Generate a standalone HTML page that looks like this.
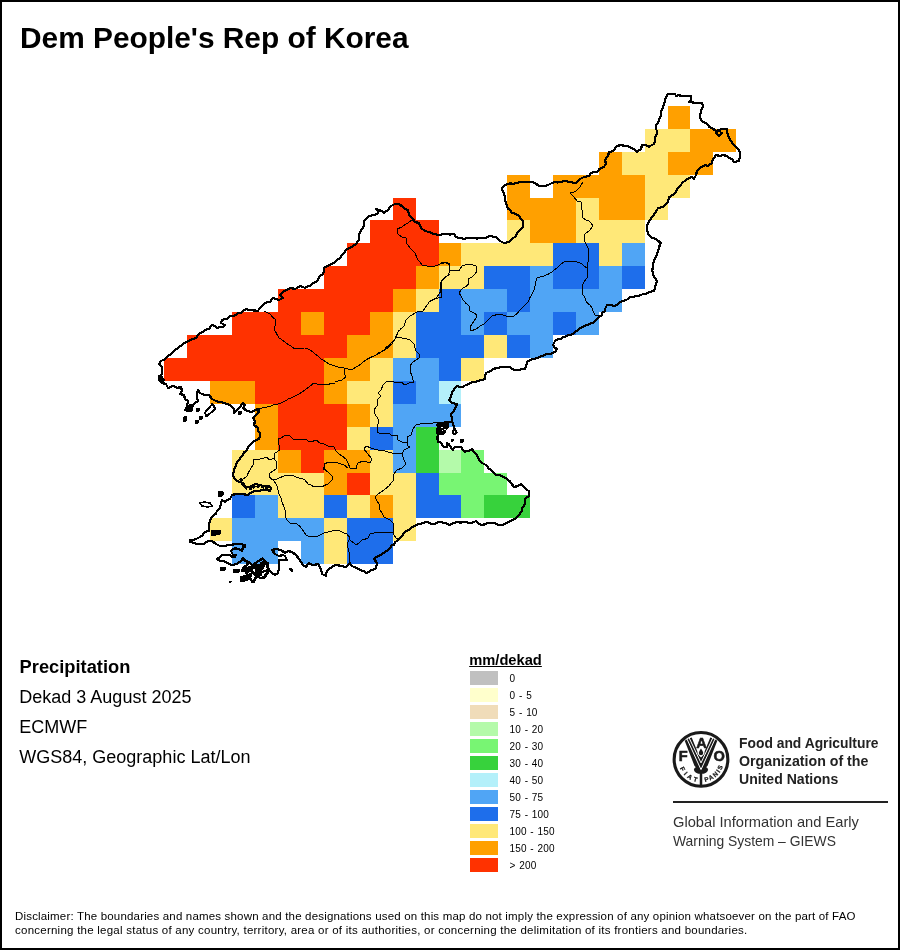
<!DOCTYPE html>
<html><head><meta charset="utf-8"><title>Dem People's Rep of Korea - Precipitation</title>
<style>
html,body{margin:0;padding:0;background:#fff;}
body{width:900px;height:950px;position:relative;overflow:hidden;will-change:transform;font-family:"Liberation Sans",sans-serif;color:#000;}
#frame{position:absolute;left:0;top:0;width:896px;height:946px;border:2px solid #000;}
.abs{position:absolute;white-space:nowrap;}
#title{left:20px;top:20.6px;font-size:29.85px;font-weight:bold;line-height:34px;}
.info{left:19.3px;font-size:18px;line-height:22px;}
#lt{left:469.2px;top:651.6px;font-size:14.7px;font-weight:bold;line-height:16px;text-decoration:underline;}
.sw{position:absolute;left:470px;width:28px;height:14px;}
.lb{position:absolute;left:509.5px;font-size:10px;line-height:14px;letter-spacing:0.15px;word-spacing:0.8px;margin-top:0.5px;white-space:nowrap;}
.fao{left:738.8px;font-size:14.8px;font-weight:bold;color:#222;line-height:18px;transform-origin:0 0;transform:scaleX(0.94);}
.giews{left:672.8px;font-size:14.2px;color:#333;line-height:18px;transform-origin:0 0;transform:scaleX(0.94);}
#rule{position:absolute;left:673px;top:801px;width:215px;height:2px;background:#222;}
.disc{left:15px;font-size:11.5px;line-height:14px;color:#000;}
svg{position:absolute;left:0;top:0;}
</style></head><body>
<svg width="900" height="950" viewBox="0 0 900 950" shape-rendering="crispEdges">
<rect x="668" y="106" width="22" height="23" fill="#FFA000"/>
<rect x="645" y="129" width="45" height="23" fill="#FFE878"/>
<rect x="690" y="129" width="46" height="23" fill="#FFA000"/>
<rect x="599" y="152" width="23" height="23" fill="#FFA000"/>
<rect x="622" y="152" width="46" height="23" fill="#FFE878"/>
<rect x="668" y="152" width="45" height="23" fill="#FFA000"/>
<rect x="507" y="175" width="23" height="23" fill="#FFA000"/>
<rect x="553" y="175" width="92" height="23" fill="#FFA000"/>
<rect x="645" y="175" width="45" height="23" fill="#FFE878"/>
<rect x="393" y="198" width="23" height="22" fill="#FF3200"/>
<rect x="507" y="198" width="69" height="22" fill="#FFA000"/>
<rect x="576" y="198" width="23" height="22" fill="#FFE878"/>
<rect x="599" y="198" width="46" height="22" fill="#FFA000"/>
<rect x="645" y="198" width="23" height="22" fill="#FFE878"/>
<rect x="370" y="220" width="69" height="23" fill="#FF3200"/>
<rect x="507" y="220" width="23" height="23" fill="#FFE878"/>
<rect x="530" y="220" width="46" height="23" fill="#FFA000"/>
<rect x="576" y="220" width="69" height="23" fill="#FFE878"/>
<rect x="347" y="243" width="92" height="23" fill="#FF3200"/>
<rect x="439" y="243" width="22" height="23" fill="#FFA000"/>
<rect x="461" y="243" width="92" height="23" fill="#FFE878"/>
<rect x="553" y="243" width="46" height="23" fill="#1E6EEB"/>
<rect x="599" y="243" width="23" height="23" fill="#FFE878"/>
<rect x="622" y="243" width="23" height="23" fill="#50A5F5"/>
<rect x="324" y="266" width="92" height="23" fill="#FF3200"/>
<rect x="416" y="266" width="23" height="23" fill="#FFA000"/>
<rect x="439" y="266" width="45" height="23" fill="#FFE878"/>
<rect x="484" y="266" width="46" height="23" fill="#1E6EEB"/>
<rect x="530" y="266" width="23" height="23" fill="#50A5F5"/>
<rect x="553" y="266" width="46" height="23" fill="#1E6EEB"/>
<rect x="599" y="266" width="23" height="23" fill="#50A5F5"/>
<rect x="622" y="266" width="23" height="23" fill="#1E6EEB"/>
<rect x="278" y="289" width="115" height="23" fill="#FF3200"/>
<rect x="393" y="289" width="23" height="23" fill="#FFA000"/>
<rect x="416" y="289" width="23" height="23" fill="#FFE878"/>
<rect x="439" y="289" width="22" height="23" fill="#1E6EEB"/>
<rect x="461" y="289" width="46" height="23" fill="#50A5F5"/>
<rect x="507" y="289" width="23" height="23" fill="#1E6EEB"/>
<rect x="530" y="289" width="92" height="23" fill="#50A5F5"/>
<rect x="232" y="312" width="69" height="23" fill="#FF3200"/>
<rect x="301" y="312" width="23" height="23" fill="#FFA000"/>
<rect x="324" y="312" width="46" height="23" fill="#FF3200"/>
<rect x="370" y="312" width="23" height="23" fill="#FFA000"/>
<rect x="393" y="312" width="23" height="23" fill="#FFE878"/>
<rect x="416" y="312" width="45" height="23" fill="#1E6EEB"/>
<rect x="461" y="312" width="23" height="23" fill="#50A5F5"/>
<rect x="484" y="312" width="23" height="23" fill="#1E6EEB"/>
<rect x="507" y="312" width="46" height="23" fill="#50A5F5"/>
<rect x="553" y="312" width="23" height="23" fill="#1E6EEB"/>
<rect x="576" y="312" width="23" height="23" fill="#50A5F5"/>
<rect x="187" y="335" width="160" height="23" fill="#FF3200"/>
<rect x="347" y="335" width="46" height="23" fill="#FFA000"/>
<rect x="393" y="335" width="23" height="23" fill="#FFE878"/>
<rect x="416" y="335" width="68" height="23" fill="#1E6EEB"/>
<rect x="484" y="335" width="23" height="23" fill="#FFE878"/>
<rect x="507" y="335" width="23" height="23" fill="#1E6EEB"/>
<rect x="530" y="335" width="23" height="23" fill="#50A5F5"/>
<rect x="164" y="358" width="160" height="23" fill="#FF3200"/>
<rect x="324" y="358" width="46" height="23" fill="#FFA000"/>
<rect x="370" y="358" width="23" height="23" fill="#FFE878"/>
<rect x="393" y="358" width="46" height="23" fill="#50A5F5"/>
<rect x="439" y="358" width="22" height="23" fill="#1E6EEB"/>
<rect x="461" y="358" width="23" height="23" fill="#FFE878"/>
<rect x="210" y="381" width="45" height="23" fill="#FFA000"/>
<rect x="255" y="381" width="69" height="23" fill="#FF3200"/>
<rect x="324" y="381" width="23" height="23" fill="#FFA000"/>
<rect x="347" y="381" width="46" height="23" fill="#FFE878"/>
<rect x="393" y="381" width="23" height="23" fill="#1E6EEB"/>
<rect x="416" y="381" width="23" height="23" fill="#50A5F5"/>
<rect x="439" y="381" width="22" height="23" fill="#B4F0FA"/>
<rect x="255" y="404" width="23" height="23" fill="#FFA000"/>
<rect x="278" y="404" width="69" height="23" fill="#FF3200"/>
<rect x="347" y="404" width="23" height="23" fill="#FFA000"/>
<rect x="370" y="404" width="23" height="23" fill="#FFE878"/>
<rect x="393" y="404" width="68" height="23" fill="#50A5F5"/>
<rect x="255" y="427" width="23" height="23" fill="#FFA000"/>
<rect x="278" y="427" width="69" height="23" fill="#FF3200"/>
<rect x="347" y="427" width="23" height="23" fill="#FFE878"/>
<rect x="370" y="427" width="23" height="23" fill="#1E6EEB"/>
<rect x="393" y="427" width="23" height="23" fill="#50A5F5"/>
<rect x="416" y="427" width="23" height="23" fill="#37D23C"/>
<rect x="232" y="450" width="46" height="23" fill="#FFE878"/>
<rect x="278" y="450" width="23" height="23" fill="#FFA000"/>
<rect x="301" y="450" width="23" height="23" fill="#FF3200"/>
<rect x="324" y="450" width="46" height="23" fill="#FFA000"/>
<rect x="370" y="450" width="23" height="23" fill="#FFE878"/>
<rect x="393" y="450" width="23" height="23" fill="#50A5F5"/>
<rect x="416" y="450" width="23" height="23" fill="#37D23C"/>
<rect x="439" y="450" width="22" height="23" fill="#B4FAAA"/>
<rect x="461" y="450" width="23" height="23" fill="#78F573"/>
<rect x="232" y="473" width="92" height="22" fill="#FFE878"/>
<rect x="324" y="473" width="23" height="22" fill="#FFA000"/>
<rect x="347" y="473" width="23" height="22" fill="#FF3200"/>
<rect x="370" y="473" width="46" height="22" fill="#FFE878"/>
<rect x="416" y="473" width="23" height="22" fill="#1E6EEB"/>
<rect x="439" y="473" width="68" height="22" fill="#78F573"/>
<rect x="232" y="495" width="23" height="23" fill="#1E6EEB"/>
<rect x="255" y="495" width="23" height="23" fill="#50A5F5"/>
<rect x="278" y="495" width="46" height="23" fill="#FFE878"/>
<rect x="324" y="495" width="23" height="23" fill="#1E6EEB"/>
<rect x="347" y="495" width="23" height="23" fill="#FFE878"/>
<rect x="370" y="495" width="23" height="23" fill="#FFA000"/>
<rect x="393" y="495" width="23" height="23" fill="#FFE878"/>
<rect x="416" y="495" width="45" height="23" fill="#1E6EEB"/>
<rect x="461" y="495" width="23" height="23" fill="#78F573"/>
<rect x="484" y="495" width="46" height="23" fill="#37D23C"/>
<rect x="210" y="518" width="22" height="23" fill="#FFE878"/>
<rect x="232" y="518" width="92" height="23" fill="#50A5F5"/>
<rect x="324" y="518" width="23" height="23" fill="#FFE878"/>
<rect x="347" y="518" width="46" height="23" fill="#1E6EEB"/>
<rect x="393" y="518" width="23" height="23" fill="#FFE878"/>
<rect x="232" y="541" width="46" height="23" fill="#50A5F5"/>
<rect x="301" y="541" width="23" height="23" fill="#50A5F5"/>
<rect x="324" y="541" width="23" height="23" fill="#FFE878"/>
<rect x="347" y="541" width="46" height="23" fill="#1E6EEB"/>
</svg>
<svg width="900" height="950" viewBox="0 0 900 950" fill="none" stroke="#000" stroke-linejoin="round" stroke-linecap="round">
<path d="M270,302 266.7,302.5 264,304 261.7,305.9 259,309 258,311 255.1,310.5 251.3,310.3 249,310 246,309 242.8,310.9 241,313 237.4,313.4 234.9,315.5 232,316 228.9,316.6 227.2,318.7 224.6,318.8 222,320 221,323 225,325 223,327 220.7,326.8 217,328 215,326.2 212,325 209,329 205.5,329.8 202.7,332.1 200,333 197.5,335.6 196,338 193.2,339.1 190.1,340 187,342 183.7,343.2 181.9,345.2 179,347 176.7,348.8 174.9,350 173,352 171.4,354 168.6,355.4 167,357 164,359.6 161,361 159,364 162,367 162.3,370.2 162,374 159,377 159,380 162,383 166,384 168,388 171.7,386.4 174,386 177,388 181,387 182,391 180,394 184,395 185,399 188,401 187,406 185,410 187.9,410.9 191,411 192,407 195,403 198,401 197,397.5 197,394 198,390 200,393 202,394 204.8,394.8 209,395 212,399 216,401 219.1,401.8 221.9,402.1 224,403 227.3,404.1 230,405 232.1,406.9 234,409 234,413 237,410 240,407 243,403 245,405 243,408 247,411 252,412 255,410 259,409 258.5,412.2 257,414 255,416.2 253,418 255,421 254,425 258,428 258.3,430.8 260,433 259.7,436.7 259,439 257,439.7 254,441 251.8,443.3 250,445 247.8,447.4 247,450 244.5,451.9 243,455 240.3,457.9 239,460 236.9,462.1 236,465 234.8,468.1 234,470 233,475 233.9,477.4 236,480 238.6,481.6 241,482 244,486 247.5,487 250,487 252.2,485.4 255,484 260,485 262.8,486.1 266,486 269.2,486.5 271,488 270,491 266.5,490.1 264,490 260.6,490.5 258,491 255.1,491.1 252,492 248,495 244.3,494.4 242,494 238.8,494.1 236,494 232,495 230,499 227,500 225,502 222,500 221,503 220,508 217,511 215.7,513.8 213,516 210,520 209,525 209,528.2 209,531 206.8,531.3 204,533 202.6,535.4 200,537 196,539 193.6,539.9 190,540 190,542 193.3,542.8 197,544 199.9,544.2 204,544 205.8,541.9 209,541 212,541 216,544 220,546 225,546 227.6,545 231,545 235,544 240,544 245,545 245,547 243,547 242,551 239,549 235.8,548.3 233,549 231,551 233,555 236,555 235,557 232,557 230,555 225,555 221.8,555.5 220,557 217,559 220,561 224,561 227,563 228.9,563.8 232,565 237,564 241,561 243,558 245,561 249,562 252,565 253.3,567.6 256,569 259.2,570 262,572 265.1,570.8 269,570 272,573 275,575 278,573 279,568 279,564 279,560 283,560 287,560 285,556 283,555 279,556 275,554 272,550 276,549 281,550 285,553 288,551 292,552 296,555 299,559 300.8,561.4 303,565 306,567 309,563 312,564.7 314,565 318,564 319.4,566.5 321,569 322,574 326,576 326.4,572.4 328,570 332,567 334.3,565.6 337,565 341,566 346,567 348.5,564.5 350,563 351.3,565.7 354,567 357,568 360,570 363.1,570.8 366,573 368.5,572.2 371,570 374,569.3 376,568 377,563 374,559 376.1,557.3 379,556 381.5,554.4 385,552 387.5,550.4 390,548 391.4,545.6 393.8,544.7 395,542 398,540.5 400,538 402.5,535.9 404,533 406.6,531 410,529 412.3,526.8 415,526 416.8,524.7 420,524 422.6,523.3 426,522 429.7,522.9 432,524 435.7,523.7 438,522 441.7,522.3 444,523 446.6,523.6 450,525 453,523.1 457,522 460.7,522.6 464,522 467.5,522.5 470,523 473.2,522.4 476,521 477.9,523.2 481,525 484.6,524.4 487,523 490.9,523 494,523 497,524.4 501,525 503.2,524.5 506,523 510.2,521.3 513,520 515.4,518.7 518,516 520.3,513 522,511 522.4,508 524,506 525.1,503 525,499 529,496 529,491 526,489.5 524,487 521,484 518,486 514,487 511,483 509.7,481.2 507,479 504.3,477.6 502,476 498.4,474.8 496,475 494.2,472.7 491,470 488.5,468.2 486,465 482,463 479.9,461.1 478,458 477,455.1 475,453 472.2,449.4 468.3,451 465,451.7 462.8,449.4 460.6,446.7 458.3,447.2 454.4,447.2 452.8,450 451.7,448.3 449.9,445.8 448.9,443.9 446.7,443.3 446.7,447.2 444.4,447.2 442.4,445.1 441.1,442.8 437.8,441.7 437.4,437.9 437.8,434.4 437.2,432.4 437.4,429.1 437.7,427.2 437.5,424 440.6,423.9 444,422.5 449,422.2 452.2,422.2 453.9,426.1 455,430 452.6,431 454,434.5 456.6,432.5 455,430 453.9,426.1 452.2,422.2 452.2,417.2 450.6,415 452.5,412.5 454.4,410 456,407 457,404 452,403 449,400 450,399 451,396.4 452,392.9 453,391 454.9,388 457,386 459.3,386.9 463,387 464.8,385.6 468,384.4 470,383 472.4,382.4 475.4,382.1 478,381 480.9,380.1 485,379 485.1,375.7 486,373 488.7,371.7 490.8,370.7 493,369 496.3,368.2 498.5,367.7 501,367 504,367.3 506.9,367 510,367 512.5,369.2 515,370 518.6,370.2 522.3,369 525,369 526.1,366.2 527,362 530.5,360 533,359 538,358 540.9,356.4 545,355 547,353.9 549.7,353.9 553,353 555.4,351.6 557,349 554.5,347.3 553,345 555,341 557.9,339.1 560.9,339 563,337 565.3,336.7 568.3,335 572,334.5 574,333 575.7,331.4 578.5,329.8 580.3,328.2 583,327 585.8,325.3 588.1,324.9 589.8,323.7 593,323 595.2,321 596.3,319.7 599,317 601.4,315.7 602.4,312.6 605,311 605.3,308.4 607,305 610.2,304.9 614,306 616.6,305 619.8,302.3 622,301 624.2,300.6 627.6,299.3 629.6,297.3 633,297 635.8,296.1 637.4,296.2 640.7,295.2 643,294 645.1,293.8 647.8,293 651.2,291.5 654,291 655.1,288.6 655.7,284.4 657,282 655.7,278.9 653.7,276.2 653,274 652.3,270.6 652.7,267.7 653,265 654,260 655.9,256.7 657,254 658,250.5 659,248 659.8,244.8 661,243 657,240 654.1,238.3 652,238 650.3,236.1 648,234 647,229 647,226 648,223 650.2,219.9 651,218 653.5,215.4 655,213 656.5,211 658,208 663,207 664.8,205 667,203 668.3,200.7 669,197 671.3,196 674,194 675.8,191.7 677,189 678.9,186.8 681,185 682.3,182.4 685,181 689,178 692,177 694,179 696,175 697,171 700,168 701.9,166.9 705,165 708,166 712,163 712.6,160 714,158 716,155 720,156 723,155 727,156 728.9,158 732,159 734,162 739,161 740,156 740.1,153.3 739,150 736.7,147.6 735,146 732.7,143.4 731,141 729,137.9 728,135 727.1,132.7 727,129 722,129 719.7,130.1 716,131 712,128 709.1,126.7 707,124 704.2,122.3 702,121 700.3,118.3 700,116 701,111 702,108.5 703,106 702,103 698.1,103 695,103 691.3,102.1 689,102 691,100 691,96 686,96 682.1,95.8 678.6,95.3 676,96 675,94 671.2,93.6 668,94 666.6,96.5 665,99 664.7,101.9 664,104.9 663,107 661.8,109.7 661,113 660.7,116 659,120 657.8,122.7 656,125 655.8,128.5 657,131 656.6,134.7 655,138 654.9,141.5 654,144 651,145.5 649,147 646,145 642,145 641,149 637,152 634,149 631,148 628,146 625,146 621,145 617,146 614,150 611.6,151.6 609,152 608,156 605,160 606,164 604.3,166.3 602,168 599.1,169.3 597,172 593.4,172.3 591,173 589,176 584,177 580,179 577.4,181.5 576,183 573.1,182.7 570,182 565,181 560,182 557.5,182.6 554.7,181.9 552,183 548,185 545.4,185.7 542,185.7 539,186 535,183 532.2,182.1 529.4,182.2 526,182.4 522.4,182.1 520.3,182.2 517,182.7 514.1,183.8 510.5,183.4 507.3,184 503,186.5 502,188.5 503,191.5 504,194 504.9,197.2 505,200 506.2,202.9 507,207 508.1,208.6 510.7,210.7 512,213 515.6,213.8 519,216 520.3,218.2 523,221 523.3,224.3 523,227 520.8,229.2 518,232 516.5,234.4 515,237 512.9,238.1 511.6,239.9 509,242 504,243 500,241 498.7,239.7 496,237 491.8,236.4 489,236 486.5,237.7 483,238 480.2,237.7 477.1,238.7 474.3,238.1 472,238 468.8,238.4 467.3,238.1 464,239 461.8,238.3 459.2,238 456,237 454,234 450.1,234.6 447,234 443.5,233.8 440,235 436.3,234.5 434,234 430.9,232.7 428,232 424.5,230.3 422,229 420.2,226.5 419,223 415,222 412,218 409,215 408,210 404.8,208.9 403,207 399,204 395,204 391,206 388,210 384,213 382,210.9 379,210 376,209 379,211 377.6,213.3 375,215 372.6,215.2 369,216 366.3,218.3 364,221 364.2,224.6 363,228 360.8,230.9 359,234 358.7,236.3 359,240 356,244 353.1,245.8 351,247.3 349,248 346.6,249.6 345,251.5 343,254 340.8,256.7 339.6,258.5 337,260 334.9,262.3 333,263.4 330,265 327.3,265.8 324,268 323.8,270.9 323,274 319,277 317.9,279.7 316,282 312.7,283.3 310,286 308.1,286.4 305,288 302.5,286.8 300,286 297.2,287.9 295,289 291,288 288.2,289.1 284,291 282.2,292.7 280,295 283,298 279,300 276.1,298.8 273,298Z" stroke-width="2.2" shape-rendering="crispEdges"/>
<path d="M264,311 266.7,312.2 270,314 272.7,317.4 276,320 275.3,322.7 275,326.4 274,329 275.6,331.7 277.1,334.6 279,338 281.5,339.5 284.1,341.4 287.1,343.8 289.9,345.3 292.3,347.2 295,349 298.2,348.5 301.3,348.1 305,348 309.4,349.7 313,352 315.7,354.4 318.7,356.4 321,359 323.5,360.4 326.2,362.3 329,364 332.4,365.3 335,366 M259,409 262.3,407.8 264.6,407.7 268.4,406.7 271,406 274.1,404.6 276.9,404.4 280.3,403.3 283,402 286.4,400.3 288.6,398.7 292,397.7 295,396 298.7,394.2 301.8,392.2 305,390 308,387.7 310.6,385.6 314,383 316.8,384 320.1,384.2 323,385 325.7,384.3 329.1,384.2 331.7,383.1 335,383 M323,470 324,467.1 325,464 327.9,462.8 331,462 335,462 M412,220 408,223 405.1,224.6 402,227 397,229 397,233 399.3,235 402,237 406,238 406,243 408.4,245.6 410,248 412.8,250.5 415,253 416.3,256.3 418,260 420.4,262.7 422,265 425.8,265.6 430,267 434,266.2 438,265 440.9,263.3 444,262 447.2,263.4 450,264 M450,274 446.8,276.1 444,279 441.9,281.4 440,284 440.7,287.2 441,291 438.8,294.7 436,298 432.5,299.7 429,302 427.4,304.8 425,308 423,311 420.3,311.3 417,312 413.2,314.2 410,316 406,320 404.8,323.4 404,326 401,328.7 398,332 396.3,335.4 395,339 392.6,341.9 390,344 386.7,346.9 384,350 381.1,352.1 378.3,352.9 376,355 371.6,356.9 368,359 M583,182 580,187 576,191 573.4,192.3 570,193 574,197 577,201 581,202 581.7,206.4 582,210 582.9,213.8 583,218 585.7,219.9 589,221 591.2,223.1 593,226 591.1,228.4 589,231 585,234 584.9,237.8 585,242 586.7,245.6 589,250 588.3,253.9 588,258 588.1,261 587.8,264.4 587,268 587.4,272.3 588,276 586.6,278.6 584.3,281.3 583,284 582.4,288.4 582,292 583.1,294.9 585,297.6 586,301 587.9,303.6 590.2,305.3 592,308 593.1,311.1 595,315 598.4,315.3 601,316 M587,268 584.7,266.4 582,264 577.9,262.3 574,261 571.1,261.4 567.1,261.9 564,262 560.8,264.3 558,267 554.6,269.7 552,272 548.4,274.1 544,276 540.9,276.6 537,278 535.8,282 535,286 533.9,290.4 532,294 529.9,297.8 528,302 525.3,304.7 523.1,307 520,310 517.3,313.2 514,316 511.3,316.7 508,317 504.1,315.3 500,314 495.8,314.9 492,316 489.6,318.3 486.4,321.6 484,324 481.1,325.3 478.2,327.4 476,329 471,331 470,327 471.8,324.4 474,321 475.8,318.4 477,315 473.3,312.6 470,311 469,306 465.6,303 463,300 461.2,296.5 459,293 460.8,290.4 463,288 466.1,286.2 469,284 468,279 472,277 474.7,274.3 477,271 476,266 472.1,264.7 468,264 465.3,264.8 462,266 459,271 456.1,270.9 453.2,270.7 450,271 449.8,267.8 450,265 446,262 442.7,263.3 440,264 M450,271 448,275 445.1,277.3 442,280 441.6,283.8 441.3,286.4 441,290 441.8,293.6 442,297 438.9,297.6 435,299 430,301 M335,366 338,367 341.3,367.7 344,368 347.6,368.8 352,370 354.7,367.7 358,366 360.9,364.1 363,362 366.4,359.9 369,358 372.3,356.6 374.8,355.6 378,354 381.9,351.6 385,350 387.4,348.1 389.4,345.9 392,344 393.7,340.7 396,338 397.3,334.1 399,330 M344,368 344,373 346,377 342,380 338.6,380.7 335,382 M396,338 398.6,337.8 402,338 406.2,338.7 410,340 414,344 414.8,347.2 416,351 420,355 419,358 416.3,360 413,362 410,366 410,371 412,376 412.6,378.6 414,382 409,383 405,385 401,382 397.4,382 394,382 390.1,381.6 386,382 383,385 381,390 378,393 381,396 378,399 377.7,402.2 378,405 375.9,407.3 374,410 375,414 378,419 378,424 377,428 377,432 381,434 384.3,433.9 388,433 393,436 397,435 398,440 402,442 407,442 408,446 410,447 406.8,448.6 404,450 402,454 402.9,456.9 404,460 406,464 402,468 397,470 394,474 393.8,477.9 393,481 390.9,483.2 389,486 386.7,487.7 384,490 380.6,492.4 378,494 375,497 376.9,500.8 379,504 379.4,507.3 380,510 382,513.2 384,517 386.6,518.5 390,520 394,524 393.6,528.4 393,532 394.1,535.1 396,538 400,538 M407,442 407,437 411,435 411.9,432 413,429 414.7,426.3 417,424 420.4,424 423.3,423.3 427,423 430.9,423.4 434.1,422.7 438,423 M278,439 281.4,437.9 284,436 287,435.6 290,436 294,440 297.4,439.9 300,440 305,439 310,442 313.4,441.1 316,440 320,443 324.3,444.2 328,446 331.3,446.2 334,447 336,451 338.9,453.8 342,456 346,459 348,463 350,468 353.3,468.2 356,469 356.7,465.9 358,463 363,461 366.5,461.9 370,463 372,459 369.7,456.3 368,454 366.2,451.9 364,449 366,446 371,448 374.1,449.1 378,450 381.6,450.3 385,451 388,452 392.1,453 396,454 399.1,453.8 402,454 M278,439 278.4,442.1 279,445 280,450 275,453 274,458 277,463 276.4,466.1 276,469 273,470.9 270,473 269,477 273,480 277,479 280.1,477.6 284,476 288,475.3 292,475 295.7,476.8 299,478 302,478.7 305,480 308,484 311,485.1 314,487 317.7,486.9 322,487 324.6,485.4 328,484 332,480 332,476 328,472 324,469 324,464 327,462.6 330,462 334.1,462.1 338,463 341.2,464.2 344,465 348,468 M273,480 275,482.6 277,486 278,489.9 279,494 280.9,497.7 282,502 283.8,506.4 285,510 285.7,514.3 286,518 287.7,520.9 290,523 293.5,523.9 297,524 299.9,526.2 302,529 304.3,532.4 306,535 310,537 313.6,536.4 318,536 321.2,534.2 324,533 328.4,531.8 332,531 336.3,530.7 340,531 343.5,532.9 347,534 350,538 348,542 347.7,544.8 348,548 349,551.8 350,556 349.6,558.7 350,562 M274,458 270,460 266,457 262.7,458.4 260,459 257.2,459.4 254,459 253.2,462.3 253,465 250,470 248.2,473 247,476 244.6,477.9 242,480 240,482 M350,540 353.3,542.5 356,545 359.1,542.8 362,540 364.6,539.4 368,538 370,534 374.1,532.9 378,532 382.3,532.3 386,533 389.9,532.6 393,532" stroke-width="1" shape-rendering="crispEdges"/>
<path d="M185,408 191,404 193,410 187,412Z M183,418 186,416 187,420 184,422Z M195,421 198,420 198,423 195,424Z M199,417 202,416 202,419 199,420Z M196,409 199,408 199,411 196,412Z M238,412 241,411 241,414 238,415Z M451,439 453,439 453,441 451,441Z M460,439 463,439 463,442 460,442Z M437.3,422.4 449,422.2 448.4,427 446,430 444.5,434 441,434.4 438,434.4Z M218,492 222,491 224,494 221,497 218,496Z M211,531 220,530 220,534 212,536Z M220,568 225,567 225,570 221,571Z M233,570 239,569 239,572 234,573Z M229,581 231,581 231,582 229,582Z M289,568 291,568 293,571 291,571Z M158.5,375.5 161,374.5 164.5,380 162.5,382.5 159.5,381Z M243,569 250,566 252,570 246,574Z M254,567 258,564 261,567 257,571Z M260,563 265,561 267,564 262,567Z M240,578 248,575 250,579 243,582Z M253,573 259,571 262,575 256,578Z" stroke-width="1" fill="#000" shape-rendering="crispEdges"/>
<path d="M200,503 204,502 210,503 212,506 208,507 202,506 200,503 M716,133 719,131 722,133 719,136 716,133" stroke-width="1.5" shape-rendering="crispEdges"/>
<path d="M242.7,558 245.3,560.7 248.7,562 246.7,565.3 243.3,568 242,570.7 246.7,571.3 250.7,568.7 252.7,565.3 256,562.7 260,560 262.7,558.7 264.7,561.3 268,563.3 267.3,566.7 269.3,569.3 268,572.7 265.3,574.7 265.3,577.3 260,578 257.3,576 254.7,578.7 254,582 252,582 250.7,578.7 246.7,579.3 242.7,581.3 240.7,580.7 241.3,577.3 245.3,576 249.3,574.7 252.7,572.7 252,570 M254.7,565.3 258.7,566 261.3,564 264,566 262,568.7 258.7,569.3 256,571.3 254.7,574 258.7,573.3 261.3,571.3 M245.3,570 249.3,570.7 252,568 M242.7,578.7 248,577.3 251.3,576" stroke-width="2.4" shape-rendering="crispEdges"/>
<path d="M204.8,412.8 212.5,403.8 215.3,409.1 206.5,416.3 204.8,412.8" stroke-width="2" shape-rendering="crispEdges"/>
<path d="M240.5,478.5 L243,484 L247,488.3 L252,488.6 L255,485.8 L260,486.4 L265,487.4 L270.5,489.8" stroke-width="3" stroke-dasharray="3.2 1.3" stroke-linecap="butt" shape-rendering="crispEdges"/>
<path d="M441.3,427h1.6v1h-1.6z M444.3,429h1.6v1h-1.6z M442,430.2h1.2v1h-1.2z" fill="#fff" stroke="none" shape-rendering="crispEdges"/>

</svg>
<svg width="900" height="950" viewBox="0 0 900 950">
<g transform="translate(701,759.4)" fill="#1a1a1a" stroke="none" font-family="'Liberation Sans',sans-serif" font-weight="bold">
<circle r="26.85" fill="#fff" stroke="#1a1a1a" stroke-width="3.1"/>
<path d="M-16.3,-18.6 L-6.6,6.3 L0,13 L6.6,6.3 L16.3,-18.6 L13,-20.6 L9.3,-21.8 L3.7,-8.2 L3.3,-5.4 L0,-2 L-3.3,-5.4 L-3.7,-8.2 L-9.3,-21.8 L-13,-20.6 Z"/><ellipse cx="0" cy="10.4" rx="7.1" ry="4"/><g fill="none" stroke="#fff" stroke-width="1.0" stroke-linejoin="miter"><path d="M-14.1,-20.6 L0,10.2 L14.1,-20.6"/><path d="M-11.9,-21.6 L0,3.5 L11.9,-21.6"/></g><path d="M0,-10.9 C1.5,-8.6 2.2,-7.4 2.2,-6.4 A2.2,2.2 0 0 1 -2.2,-6.4 C-2.2,-7.4 -1.5,-8.6 0,-10.9Z"/><rect x="-1.25" y="12" width="2.5" height="13.6"/>
<g stroke="#1a1a1a" stroke-width="0.55"><text x="-17.7" y="1.1" font-size="14.6" text-anchor="middle">F</text><text x="0.6" y="-11.4" font-size="14.6" text-anchor="middle">A</text><text x="18.1" y="1.3" font-size="14.6" text-anchor="middle">O</text></g>
<defs><path id="arcL" d="M-21.08,8.95 A22.9,22.9 0 0 0 -4.37,22.48"/><path id="arcR" d="M3.98,22.55 A22.9,22.9 0 0 0 21.78,7.08"/></defs>
<text font-size="6.3" stroke="#1a1a1a" stroke-width="0.25"><textPath href="#arcL" textLength="22.4" lengthAdjust="spacing">FIAT</textPath></text><text font-size="6.3" stroke="#1a1a1a" stroke-width="0.25"><textPath href="#arcR" textLength="24.8" lengthAdjust="spacing">PANIS</textPath></text>
</g>

</svg>
<div id="frame"></div>
<div id="title" class="abs">Dem People's Rep of Korea</div>
<div class="abs info" style="top:656.4px;font-weight:bold;font-size:18.3px;left:19.6px">Precipitation</div>
<div class="abs info" style="top:686.4px">Dekad 3 August 2025</div>
<div class="abs info" style="top:716.4px">ECMWF</div>
<div class="abs info" style="top:746.4px">WGS84, Geographic Lat/Lon</div>
<div id="lt" class="abs">mm/dekad</div>
<div class="sw" style="top:671px;background:#C0C0C0"></div><div class="lb" style="top:671px">0</div>
<div class="sw" style="top:688px;background:#FFFFCC"></div><div class="lb" style="top:688px">0 - 5</div>
<div class="sw" style="top:705px;background:#F0DCB9"></div><div class="lb" style="top:705px">5 - 10</div>
<div class="sw" style="top:722px;background:#B4FAAA"></div><div class="lb" style="top:722px">10 - 20</div>
<div class="sw" style="top:739px;background:#78F573"></div><div class="lb" style="top:739px">20 - 30</div>
<div class="sw" style="top:756px;background:#37D23C"></div><div class="lb" style="top:756px">30 - 40</div>
<div class="sw" style="top:773px;background:#B4F0FA"></div><div class="lb" style="top:773px">40 - 50</div>
<div class="sw" style="top:790px;background:#50A5F5"></div><div class="lb" style="top:790px">50 - 75</div>
<div class="sw" style="top:807px;background:#1E6EEB"></div><div class="lb" style="top:807px">75 - 100</div>
<div class="sw" style="top:824px;background:#FFE878"></div><div class="lb" style="top:824px">100 - 150</div>
<div class="sw" style="top:841px;background:#FFA000"></div><div class="lb" style="top:841px">150 - 200</div>
<div class="sw" style="top:858px;background:#FF3200"></div><div class="lb" style="top:858px">&gt; 200</div>

<div class="abs fao" style="top:733.9px;transform:scaleX(0.936)">Food and Agriculture</div>
<div class="abs fao" style="top:751.9px;transform:scaleX(0.960)">Organization of the</div>
<div class="abs fao" style="top:769.9px;transform:scaleX(0.951)">United Nations</div>
<div id="rule"></div>
<div class="abs giews" style="top:813.2px;transform:scaleX(1.034)">Global Information and Early</div>
<div class="abs giews" style="top:831.6px;transform:scaleX(0.978)">Warning System &ndash; GIEWS</div>
<div class="abs disc" id="d1" style="top:908.5px;letter-spacing:0.177px">Disclaimer: The boundaries and names shown and the designations used on this map do not imply the expression of any opinion whatsoever on the part of FAO</div>
<div class="abs disc" id="d2" style="top:922.5px;letter-spacing:0.243px">concerning the legal status of any country, territory, area or of its authorities, or concerning the delimitation of its frontiers and boundaries.</div>
</body></html>
